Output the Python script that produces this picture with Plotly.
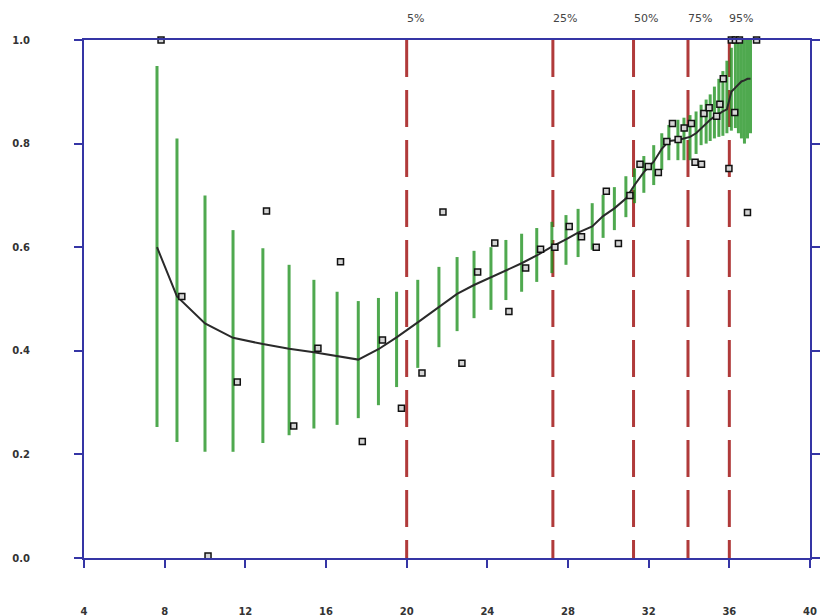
import plotly.graph_objects as go

# ---- data ----
bar_x = [7.62, 8.61, 10.0, 11.39, 12.87, 14.17, 15.4, 16.55, 17.6, 18.6, 19.5,
         20.55, 21.6, 22.5, 23.34, 24.18, 24.92, 25.7, 26.45, 27.2, 27.9, 28.5,
         29.2, 29.74, 30.3, 30.87, 31.3, 31.76, 32.25, 32.65, 33.0, 33.45, 33.75,
         34.05, 34.35, 34.6, 34.85, 35.05, 35.26, 35.48, 35.68, 35.88, 36.1, 36.3,
         36.45, 36.6, 36.75, 36.9, 37.05]
bar_low = [0.253, 0.224, 0.205, 0.205, 0.222, 0.237, 0.25, 0.257, 0.27, 0.295, 0.33,
           0.367, 0.407, 0.438, 0.463, 0.479, 0.498, 0.514, 0.533, 0.55, 0.566, 0.581,
           0.595, 0.618, 0.633, 0.658, 0.685, 0.705, 0.72, 0.749, 0.768, 0.768, 0.768,
           0.768, 0.78, 0.797, 0.80, 0.805, 0.81, 0.813, 0.815, 0.82, 0.825, 0.83,
           0.82, 0.81, 0.80, 0.81, 0.82]
bar_high = [0.95, 0.81, 0.70, 0.633, 0.598, 0.566, 0.537, 0.514, 0.496, 0.502, 0.514,
            0.537, 0.562, 0.581, 0.593, 0.600, 0.614, 0.626, 0.637, 0.649, 0.662, 0.674,
            0.685, 0.701, 0.716, 0.737, 0.752, 0.776, 0.797, 0.82, 0.836, 0.846, 0.85,
            0.855, 0.862, 0.875, 0.885, 0.895, 0.91, 0.925, 0.94, 0.96, 0.985, 1.0,
            1.0, 1.0, 1.0, 1.0, 1.0]
curve_y = [0.60, 0.505, 0.453, 0.425, 0.413, 0.404, 0.397, 0.389, 0.383, 0.403, 0.426,
           0.455, 0.485, 0.51, 0.527, 0.542, 0.556, 0.569, 0.584, 0.601, 0.615, 0.628,
           0.64, 0.66, 0.675, 0.694, 0.72, 0.745, 0.765, 0.79, 0.805, 0.807, 0.81,
           0.813, 0.82, 0.83, 0.84, 0.846, 0.852, 0.858, 0.862, 0.866, 0.90, 0.908,
           0.915, 0.92, 0.922, 0.925, 0.925]

pt_x = [7.82, 8.85, 10.15, 11.6, 13.05, 14.4, 15.6, 16.72, 17.8, 18.8, 19.74, 20.76,
        21.8, 22.74, 23.52, 24.37, 25.07, 25.9, 26.64, 27.35, 28.06, 28.67, 29.4,
        29.9, 30.5, 31.07, 31.57, 31.98, 32.48, 32.9, 33.18, 33.46, 33.76, 34.12,
        34.3, 34.62, 34.74, 35.0, 35.37, 35.53, 35.7, 35.98, 36.27, 36.1, 36.3, 36.5,
        36.9, 37.35]
pt_y = [1.0, 0.505, 0.004, 0.34, 0.67, 0.255, 0.405, 0.572, 0.225, 0.421, 0.289, 0.357,
        0.668, 0.376, 0.552, 0.608, 0.476, 0.56, 0.596, 0.6, 0.64, 0.62, 0.6,
        0.708, 0.607, 0.70, 0.76, 0.756, 0.744, 0.804, 0.839, 0.808, 0.83, 0.839,
        0.764, 0.76, 0.858, 0.869, 0.853, 0.876, 0.925, 0.752, 0.86, 1.0, 1.0, 1.0,
        0.667, 1.0]

pct_labels = ["5%", "25%", "50%", "75%", "95%"]
pct_x = [20.0, 27.25, 31.25, 33.95, 36.0]

x_ticks = [4, 8, 12, 16, 20, 24, 28, 32, 36, 40]
y_ticks = [0.0, 0.2, 0.4, 0.6, 0.8, 1.0]
y_tick_text = ["0.0", "0.2", "0.4", "0.6", "0.8", "1.0"]

AXIS = "#3535a5"
GREEN = "rgba(30,145,30,0.78)"
RED = "#b03a3a"

fig = go.Figure()

for x, lo, hi in zip(bar_x, bar_low, bar_high):
    fig.add_trace(go.Scatter(x=[x, x], y=[lo, hi], mode="lines",
                             line=dict(color=GREEN, width=3),
                             showlegend=False, hoverinfo="skip"))

fig.add_trace(go.Scatter(x=bar_x, y=curve_y, mode="lines",
                         line=dict(color="#2a2a2a", width=2),
                         showlegend=False, hoverinfo="skip"))

fig.add_trace(go.Scatter(x=pt_x, y=pt_y, mode="markers", cliponaxis=False,
                         marker=dict(symbol="square", size=6, color="#d5d5d5",
                                     line=dict(color="#111111", width=1.5)),
                         showlegend=False, hoverinfo="skip"))

for lab, px in zip(pct_labels, pct_x):
    fig.add_shape(type="line", xref="x", yref="y", x0=px, x1=px, y0=1, y1=0,
                  line=dict(color=RED, width=3, dash="37px,13px"), layer="below")
    fig.add_annotation(x=px, y=1, xref="x", yref="paper", text=lab, showarrow=False,
                       xanchor="left", yanchor="bottom", yshift=13, xshift=-2,
                       font=dict(family="DejaVu Sans", size=11, color="#444444"))

fig.update_xaxes(range=[4, 40], tickvals=x_ticks, ticks="outside", ticklen=8,
                 tickwidth=2, tickcolor=AXIS, showline=True, linecolor=AXIS,
                 linewidth=2, mirror=True, showgrid=False, zeroline=False,
                 ticklabelstandoff=35,
                 tickfont=dict(family="DejaVu Sans", size=10, color="#333333",
                               weight="bold"))
fig.update_yaxes(range=[0, 1], tickvals=y_ticks, ticktext=y_tick_text,
                 ticks="outside", ticklen=8, tickwidth=2, tickcolor=AXIS,
                 showline=True, linecolor=AXIS, linewidth=2, mirror="ticks",
                 showgrid=False, zeroline=False, ticklabelstandoff=42,
                 tickfont=dict(family="DejaVu Sans", size=10, color="#333333",
                               weight="bold"))

fig.update_layout(width=826, height=616, margin=dict(l=84, r=16, t=40, b=58,
                                                     autoexpand=False),
                  plot_bgcolor="white", paper_bgcolor="white", showlegend=False)

fig.write_html("out.html", config={"displayModeBar": False},
               post_script="document.body.style.margin='0';"
                           "document.body.style.overflow='hidden';")
